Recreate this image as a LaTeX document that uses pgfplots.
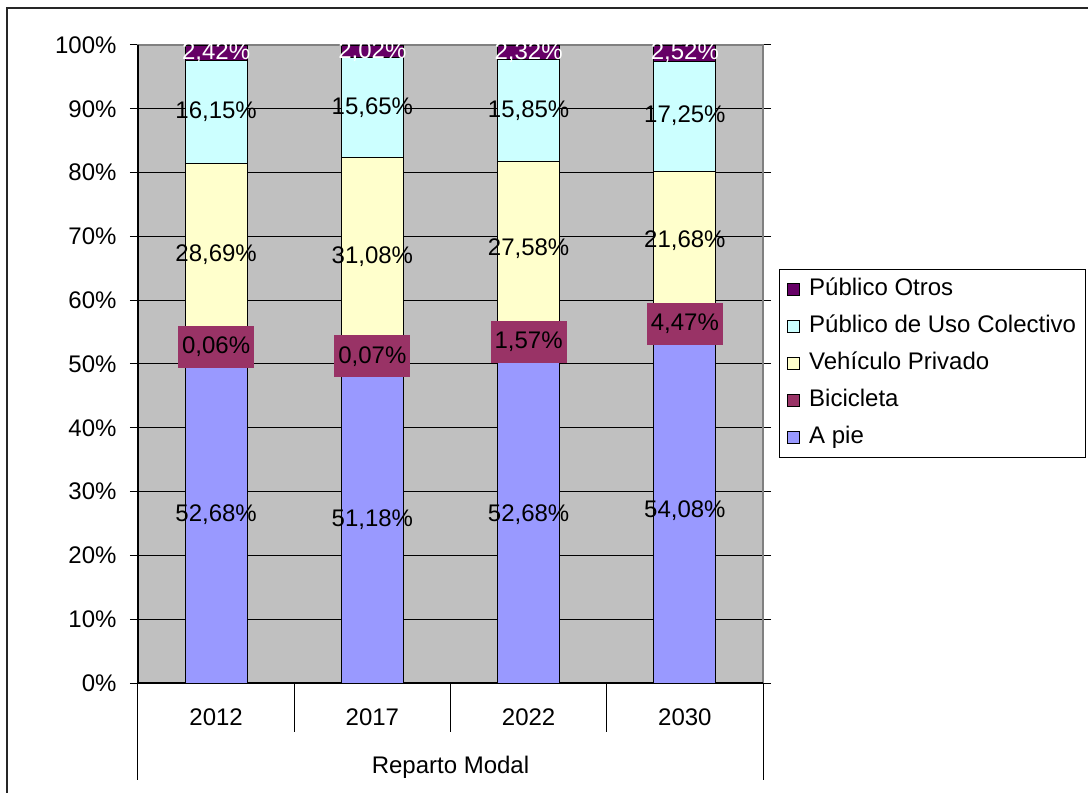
\documentclass[border=0pt]{standalone}
\usepackage{fontspec}
\setmainfont{Liberation Sans}
\usepackage{pgfplots}
\usepackage{pgfplotstable}
\pgfplotsset{compat=1.18}

\definecolor{cApie}{HTML}{9999FF}
\definecolor{cBici}{HTML}{993366}
\definecolor{cVeh}{HTML}{FFFFCC}
\definecolor{cPub}{HTML}{CCFFFF}
\definecolor{cOtros}{HTML}{660066}
\definecolor{cBg}{HTML}{C0C0C0}
\definecolor{cBorder}{HTML}{808080}

\newcommand{\labfont}{\fontsize{24}{28}\selectfont}
\newcommand{\tickfont}{\fontsize{24}{28}\selectfont}
\newcommand{\catfont}{\fontsize{24}{28}\selectfont}

% reparto modal, % of trips
\pgfplotstableread{
x apie bici veh pub otros
0 52.68 0.06 28.69 16.15 2.42
1 51.18 0.07 31.08 15.65 2.02
2 52.68 1.57 27.58 15.85 2.32
3 54.08 4.47 21.68 17.25 2.52
}\modal

\pgfplotsset{
  common/.style={
    scale only axis, width=625pt, height=638pt,
    xmin=-0.5, xmax=3.5, ymin=0, ymax=100,
  },
  seg/.style={fill=#1, draw=black, line width=0.8pt,
    legend image code/.code={\draw[fill=#1, draw=black, line width=0.8pt] (0pt,-6pt) rectangle (12pt,6pt); \path (20pt,0pt);}},
  lab/.style={draw=none, mark=none, point meta=explicit,
    /pgf/number format/assume math mode=true,
    nodes near coords={\pgfmathprintnumber[fixed,fixed zerofill,precision=2,use comma,assume math mode=true]{\pgfplotspointmeta}\%},
    every node near coord/.append style={anchor=center, font=\labfont, text=black, inner sep=0pt}},
}

\begin{document}
\begin{tikzpicture}
\useasboundingbox (-138pt,-110pt) rectangle (950pt,683pt);
\draw[line width=1.6pt, black!85] (-131pt,675pt) rectangle (965pt,-125pt);

\begin{axis}[common,
  ybar stacked, bar width=62pt,
  axis background/.style={fill=cBg},
  axis line style={draw=cBorder, line width=1.5pt},
  ymajorgrids, grid style={black, line width=1pt},
  ytick={0,10,...,100},
  yticklabel={\pgfmathprintnumber{\tick}\%},
  /pgf/number format/assume math mode=true,
  tick align=outside, major tick length=8pt,
  ytick style={black, line width=1pt},
  xtick={0,1,2,3}, xticklabels={2012,2017,2022,2030},
  xtick style={draw=none},
  yticklabel style={font=\tickfont, xshift=-10pt},
  xticklabel style={font=\catfont, anchor=center, yshift=-26pt},
  xlabel={Reparto Modal},
  xlabel style={font=\catfont, at={(axis description cs:0.5,0)}, anchor=center, yshift=-84pt},
  reverse legend,
  legend cell align=left,
  legend style={at={(1.0256,0.6489)}, anchor=north west, draw=black, line width=0.8pt,
    font=\labfont, inner xsep=8pt, inner ysep=8pt, row sep=13pt,
    nodes={inner sep=1pt, text height=17pt, text depth=5pt}},
  clip=false,
]
\addplot[seg=cApie]  table[x=x, y=apie]  {\modal};
\addplot[seg=cBici]  table[x=x, y=bici]  {\modal};
\addplot[seg=cVeh]   table[x=x, y=veh]   {\modal};
\addplot[seg=cPub]   table[x=x, y=pub]   {\modal};
\addplot[seg=cOtros] table[x=x, y=otros] {\modal};
\legend{A pie, Bicicleta, Vehículo Privado, Público de Uso Colectivo, Público Otros}

% left and bottom axis lines in black
\draw[black, line width=1.5pt] (rel axis cs:0,1) -- (rel axis cs:0,0) -- (rel axis cs:1,0);
% category separators below the axis
\draw[black, line width=1pt] (axis cs:0.5,0) -- ++(0pt,-49pt);
\draw[black, line width=1pt] (axis cs:1.5,0) -- ++(0pt,-49pt);
\draw[black, line width=1pt] (axis cs:2.5,0) -- ++(0pt,-49pt);
\draw[black, line width=1pt] (axis cs:-0.5,0) -- ++(0pt,-97pt);
\draw[black, line width=1pt] (axis cs:3.5,0) -- ++(0pt,-97pt);
\end{axis}

\begin{axis}[common, hide axis]
\addplot[lab] table[x=x, y expr=\thisrow{apie}/2, meta=apie] {\modal};
\addplot[lab, every node near coord/.append style={fill=cBici, minimum height=42pt, inner xsep=4pt}]
  table[x=x, y expr=\thisrow{apie}+\thisrow{bici}/2, meta=bici] {\modal};
\addplot[lab] table[x=x, y expr=\thisrow{apie}+\thisrow{bici}+\thisrow{veh}/2, meta=veh] {\modal};
\addplot[lab] table[x=x, y expr=\thisrow{apie}+\thisrow{bici}+\thisrow{veh}+\thisrow{pub}/2, meta=pub] {\modal};
\addplot[lab, every node near coord/.append style={text=white}]
  table[x=x, y expr=100-\thisrow{otros}/2, meta=otros] {\modal};
\end{axis}
\end{tikzpicture}
\end{document}
